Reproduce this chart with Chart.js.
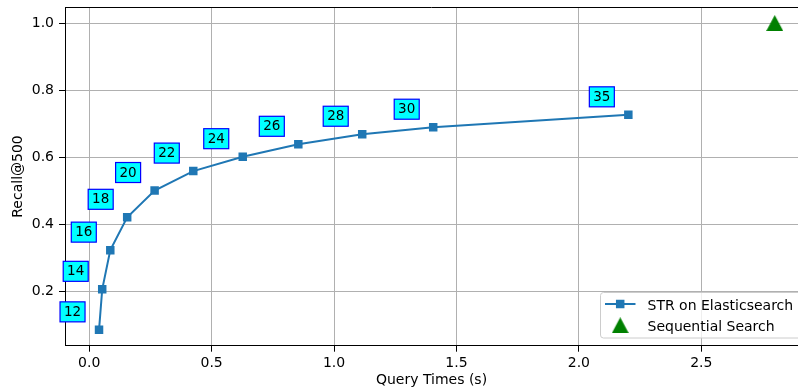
<!DOCTYPE html>
<html>
<head>
<meta charset="utf-8">
<script src="https://cdn.jsdelivr.net/npm/chart.js@4"></script>
<style>
  html, body { margin: 0; padding: 0; background: #fff; overflow: hidden; }
  #wrap { position: relative; width: 798px; height: 392px; }
</style>
</head>
<body>
<div id="wrap"><canvas id="chart" width="798" height="392"></canvas></div>
<script>
// Number of candidates per query for each STR run
const paramLabels = ['12', '14', '16', '18', '20', '22', '24', '26', '28', '30', '35'];
// Query time (s) and Recall@500 for STR on Elasticsearch
const strTimes  = [0.040, 0.053, 0.086, 0.155, 0.267, 0.425, 0.627, 0.854, 1.115, 1.405, 2.202];
const strRecall = [0.084, 0.205, 0.322, 0.420, 0.500, 0.558, 0.601, 0.638, 0.668, 0.689, 0.726];
// Sequential search baseline
const seqTimes  = [2.8];
const seqRecall = [1.0];
// Axis ticks
const xTicks = [0.0, 0.5, 1.0, 1.5, 2.0, 2.5];
const yTicks = [0.2, 0.4, 0.6, 0.8, 1.0];

const FONT = 'DejaVu Sans';
const BLUE = '#1f77b4';
const GREEN = '#008000';

// Filled upward triangle used as the marker for the baseline
function makeTriangle(w, h, color) {
  const c = document.createElement('canvas');
  c.width = w; c.height = h;
  const g = c.getContext('2d');
  g.fillStyle = color;
  g.beginPath();
  g.moveTo(w / 2, 0);
  g.lineTo(w, h);
  g.lineTo(0, h);
  g.closePath();
  g.fill();
  return c;
}
const triangle = makeTriangle(17, 16, GREEN);

// Boxed run labels placed up-left of each marker
const runLabels = {
  id: 'runLabels',
  afterDatasetsDraw(chart) {
    const meta = chart.getDatasetMeta(0);
    const ctx = chart.ctx;
    ctx.save();
    ctx.font = '13.5px "' + FONT + '"';
    ctx.textAlign = 'center';
    ctx.textBaseline = 'middle';
    meta.data.forEach((pt, i) => {
      const cx = pt.x - 26.5, cy = pt.y - 18;
      const w = 25, h = 20;
      ctx.fillStyle = '#00ffff';
      ctx.fillRect(cx - w / 2, cy - h / 2, w, h);
      ctx.strokeStyle = '#0000ff';
      ctx.lineWidth = 1.2;
      ctx.strokeRect(cx - w / 2, cy - h / 2, w, h);
      ctx.fillStyle = '#000';
      ctx.fillText(paramLabels[i], cx, cy + 0.5);
    });
    ctx.restore();
  }
};

// Top frame line and the legend box in the lower right
const frameAndLegend = {
  id: 'frameAndLegend',
  afterDraw(chart) {
    const ctx = chart.ctx;
    const a = chart.chartArea;
    ctx.save();
    ctx.strokeStyle = '#000';
    ctx.lineWidth = 1;
    ctx.beginPath();
    ctx.moveTo(a.left, Math.round(a.top) + 0.5);
    ctx.lineTo(a.right, Math.round(a.top) + 0.5);
    ctx.stroke();

    // legend frame
    const lx = 600.5, ly = 292.5, lw = 210, lh = 45.5, r = 3;
    ctx.beginPath();
    ctx.moveTo(lx + r, ly);
    ctx.lineTo(lx + lw - r, ly);
    ctx.arcTo(lx + lw, ly, lx + lw, ly + r, r);
    ctx.lineTo(lx + lw, ly + lh - r);
    ctx.arcTo(lx + lw, ly + lh, lx + lw - r, ly + lh, r);
    ctx.lineTo(lx + r, ly + lh);
    ctx.arcTo(lx, ly + lh, lx, ly + lh - r, r);
    ctx.lineTo(lx, ly + r);
    ctx.arcTo(lx, ly, lx + r, ly, r);
    ctx.closePath();
    ctx.fillStyle = 'rgba(255,255,255,0.8)';
    ctx.fill();
    ctx.strokeStyle = '#cccccc';
    ctx.lineWidth = 1;
    ctx.stroke();

    const ds = chart.data.datasets;
    // entry 1: line with square marker
    const y1 = 304;
    ctx.strokeStyle = ds[0].borderColor;
    ctx.lineWidth = ds[0].borderWidth;
    ctx.beginPath();
    ctx.moveTo(605, y1);
    ctx.lineTo(635.5, y1);
    ctx.stroke();
    ctx.fillStyle = ds[0].pointBackgroundColor;
    ctx.fillRect(620.2 - 4.25, y1 - 4.25, 8.5, 8.5);
    // entry 2: triangle marker
    const y2 = 325.3;
    ctx.drawImage(triangle, 620.2 - triangle.width / 2, y2 - triangle.height / 2);

    ctx.fillStyle = '#000';
    ctx.font = '14px "' + FONT + '"';
    ctx.textAlign = 'left';
    ctx.textBaseline = 'alphabetic';
    ctx.fillText(ds[0].label, 647.5, y1 + 5.6);
    ctx.fillText(ds[1].label, 647.5, y2 + 5.4);
    ctx.restore();
  }
};

const tickFont = { family: FONT, size: 14 };

new Chart(document.getElementById('chart'), {
  type: 'scatter',
  data: {
    datasets: [
      {
        label: 'STR on Elasticsearch',
        data: strTimes.map((t, i) => ({ x: t, y: strRecall[i] })),
        showLine: true,
        borderColor: BLUE,
        borderWidth: 2,
        backgroundColor: BLUE,
        pointBackgroundColor: BLUE,
        pointBorderColor: BLUE,
        pointBorderWidth: 0,
        pointStyle: 'rect',
        pointRadius: 6,
        pointHoverRadius: 6,
        tension: 0
      },
      {
        label: 'Sequential Search',
        data: seqTimes.map((t, i) => ({ x: t, y: seqRecall[i] })),
        showLine: false,
        pointStyle: triangle,
        backgroundColor: GREEN,
        borderColor: GREEN
      }
    ]
  },
  options: {
    responsive: false,
    animation: false,
    devicePixelRatio: 1,
    layout: { autoPadding: false, padding: { top: 7.3, left: 0, right: 0, bottom: 0 } },
    plugins: {
      legend: { display: false },
      tooltip: { enabled: false }
    },
    scales: {
      x: {
        type: 'linear',
        min: -0.099,
        max: 2.895,
        afterBuildTicks(scale) { scale.ticks = xTicks.map(v => ({ value: v })); },
        afterFit(scale) {
          scale.height = 46.3;
          scale.paddingLeft = 0; scale.paddingRight = 0;
        },
        ticks: {
          includeBounds: false,
          color: '#000',
          font: tickFont,
          padding: 3.5,
          maxRotation: 0,
          callback: v => Number(v).toFixed(1)
        },
        grid: {
          color: '#b0b0b0',
          lineWidth: 1,
          drawTicks: true,
          tickLength: 6,
          tickColor: '#000',
          tickWidth: 1
        },
        border: { display: true, color: '#000', width: 1 },
        title: {
          display: true,
          text: 'Query Times (s)',
          color: '#000',
          font: tickFont,
          padding: { top: 0, bottom: 3.6 }
        }
      },
      y: {
        type: 'linear',
        min: 0.0367,
        max: 1.047,
        afterBuildTicks(scale) { scale.ticks = yTicks.map(v => ({ value: v })); },
        afterFit(scale) {
          scale.width = 65;
          scale.paddingTop = 0; scale.paddingBottom = 0;
        },
        ticks: {
          includeBounds: false,
          color: '#000',
          font: tickFont,
          padding: 5,
          callback: v => Number(v).toFixed(1)
        },
        grid: {
          color: '#b0b0b0',
          lineWidth: 1,
          drawTicks: true,
          tickLength: 6,
          tickColor: '#000',
          tickWidth: 1
        },
        border: { display: true, color: '#000', width: 1 },
        title: {
          display: true,
          text: 'Recall@500',
          color: '#000',
          font: tickFont,
          padding: { top: 10.4, bottom: 0 }
        }
      }
    }
  },
  plugins: [runLabels, frameAndLegend]
});
</script>
</body>
</html>
